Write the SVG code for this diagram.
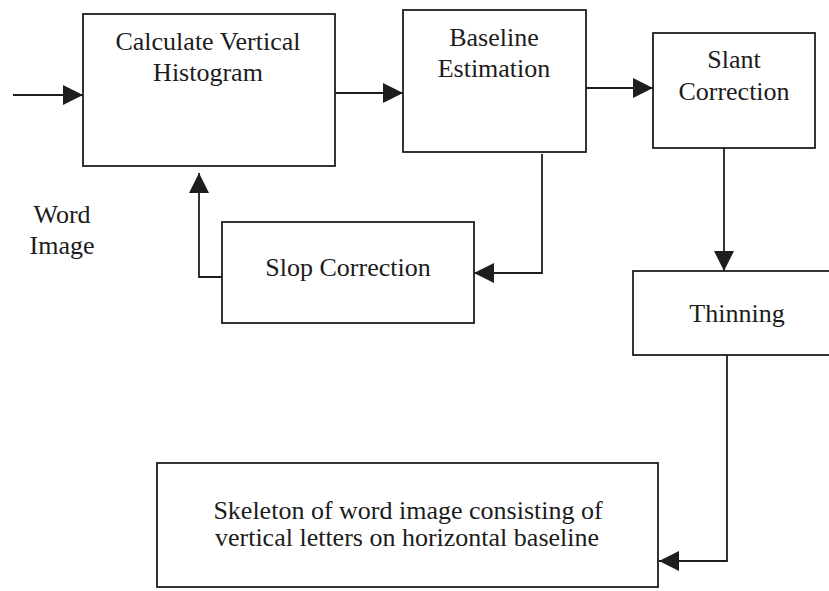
<svg xmlns="http://www.w3.org/2000/svg" width="829" height="591" viewBox="0 0 829 591">
<style>
.box{fill:#fff;stroke:#1e1e1e;stroke-width:1.8}
.lbl{font-family:"Liberation Serif","Times New Roman",serif;font-size:26px;fill:#1c1c1c;text-anchor:middle}
.con{fill:none;stroke:#1e1e1e;stroke-width:1.8}
</style>
<defs>
<marker id="ah" markerUnits="userSpaceOnUse" markerWidth="20" markerHeight="20" refX="20" refY="10" orient="auto">
<path d="M0,0 L20,10 L0,20 z" fill="#1e1e1e"/>
</marker>
</defs>
<rect width="829" height="591" fill="#fff"/>
<g id="connectors">
<path class="con" d="M13,95 L83,95" marker-end="url(#ah)"/>
<path class="con" d="M335,93 L403,93" marker-end="url(#ah)"/>
<path class="con" d="M586,88 L653,88" marker-end="url(#ah)"/>
<path class="con" d="M724,140 L724,271" marker-end="url(#ah)"/>
<path class="con" d="M542,154 L542,273 L474,273" marker-end="url(#ah)"/>
<path class="con" d="M222,277 L199,277 L199,173" marker-end="url(#ah)"/>
<path class="con" d="M727,348 L727,561 L659,561" marker-end="url(#ah)"/>
</g>
<g id="word-image">
<text class="lbl" x="62" y="223">Word</text>
<text class="lbl" x="62" y="254">Image</text>
</g>
<g id="calc-histogram">
<rect class="box" x="83" y="14" width="252" height="152"/>
<text class="lbl" x="208" y="50">Calculate Vertical</text>
<text class="lbl" x="208" y="81">Histogram</text>
</g>
<g id="baseline-estimation">
<rect class="box" x="403" y="10" width="183" height="142"/>
<text class="lbl" x="494" y="46">Baseline</text>
<text class="lbl" x="494" y="77">Estimation</text>
</g>
<g id="slant-correction">
<rect class="box" x="653" y="33" width="162" height="115"/>
<text class="lbl" x="734" y="68">Slant</text>
<text class="lbl" x="734" y="100">Correction</text>
</g>
<g id="slop-correction">
<rect class="box" x="222" y="222" width="252" height="101"/>
<text class="lbl" x="348" y="276">Slop Correction</text>
</g>
<g id="thinning">
<rect class="box" x="633" y="271" width="230" height="84"/>
<text class="lbl" x="737" y="322">Thinning</text>
</g>
<g id="skeleton">
<rect class="box" x="157" y="463" width="501" height="124"/>
<text class="lbl" x="408" y="519">Skeleton of word image consisting of</text>
<text class="lbl" x="407" y="546">vertical letters on horizontal baseline</text>
</g>
</svg>
